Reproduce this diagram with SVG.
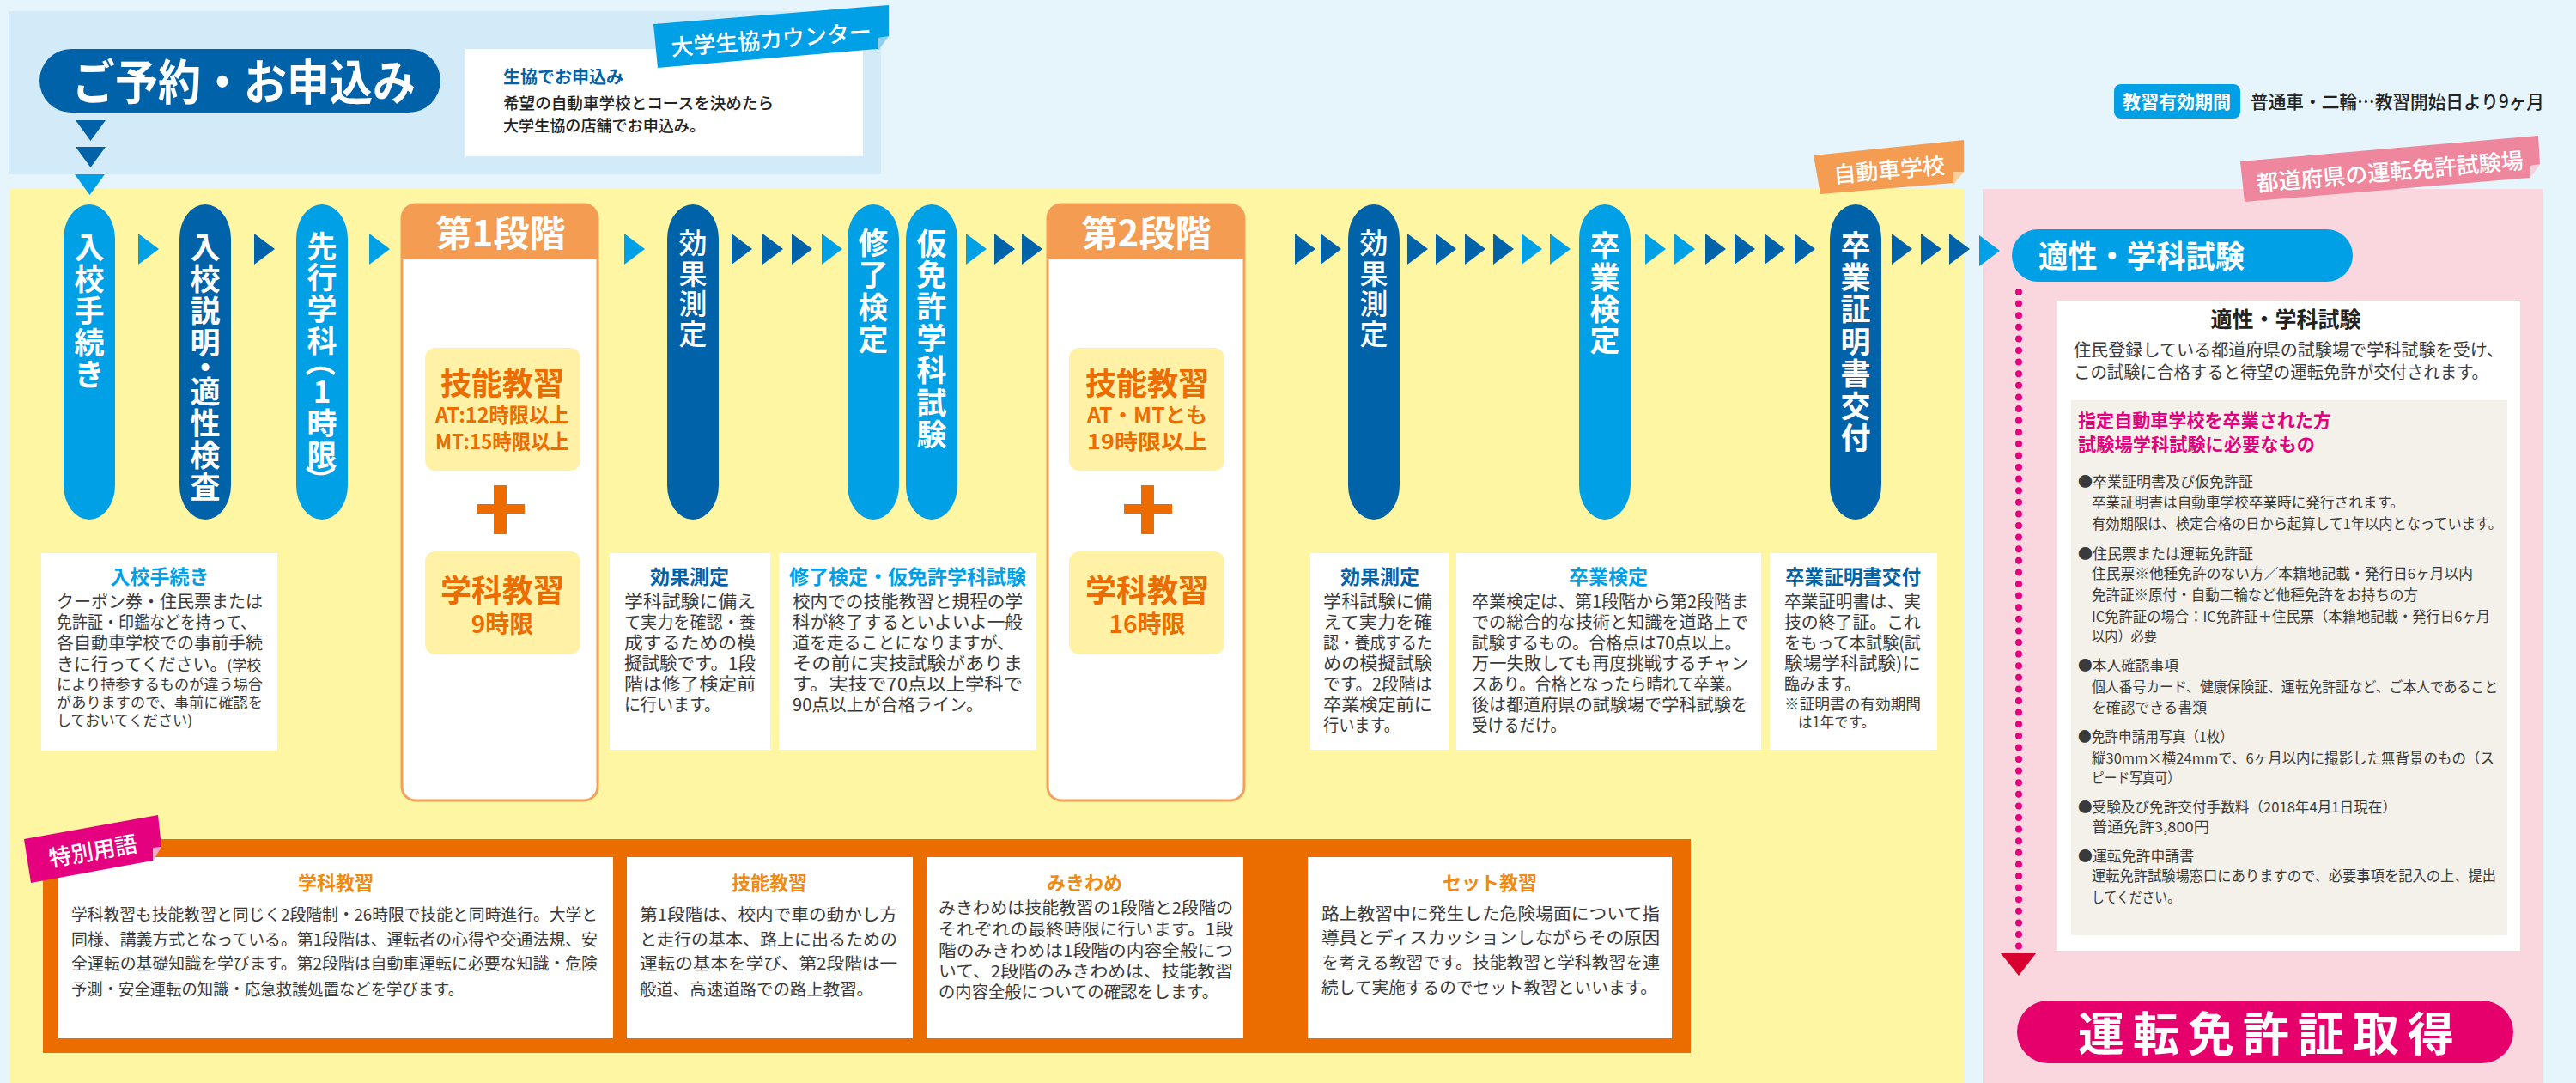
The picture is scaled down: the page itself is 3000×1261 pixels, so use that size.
<svg xmlns="http://www.w3.org/2000/svg" xmlns:xlink="http://www.w3.org/1999/xlink" width="3000" height="1261" viewBox="0 0 3000 1261">
<style>
text { font-family: "Noto Sans CJK JP", "Noto Sans", sans-serif; }
.vt { fill:#fff; font-weight:700; font-size:35px; text-anchor:middle; dominant-baseline:central; }
.vtm { font-weight:500; font-size:33px; }
.cl { fill:#00a0e6; }
.cd { fill:#0062a8; }
.wbox { fill:#fff; }
.dt { font-size:23px; font-weight:700; text-anchor:middle; }
.body { font-size:20px; fill:#3a3a3a; }
.sm { font-size:17px; }
.stage { fill:#fff; stroke:#f2a05a; stroke-width:3; }
.stagehd { fill:#f39c52; }
.sthd { fill:#fff; font-size:42px; font-weight:700; text-anchor:middle; }
.inner { fill:#fff1a6; }
.or { fill:#ec6c00; font-weight:700; text-anchor:middle; }
.list { font-size:16.5px; fill:#3a3a3a; }
.term { fill:#f08a12; font-size:22px; font-weight:700; text-anchor:middle; }
.tbody { font-size:19px; fill:#3a3a3a; }
.tag { fill:#fff; font-size:26px; font-weight:500; text-anchor:middle; dominant-baseline:central; }
</style>
<defs>
  <path id="chev" d="M0,0 L24,18 L0,36 Z"/>
  <rect id="pill" width="60" height="367" rx="30" ry="40"/>
  <path id="tri" d="M0,0 H35 L17.5,24 Z"/>
</defs>

<!-- backgrounds -->
<rect width="3000" height="1261" fill="#e6f4fc"/>
<rect x="10" y="13" width="1016" height="190" fill="#d3eaf8"/>
<rect x="11" y="219" width="2277" height="1042" fill="#fff6a3"/>
<rect x="2309" y="220" width="652" height="1041" fill="#fad6de"/>

<!-- header: reservation -->
<g id="reserve">
  <rect x="46" y="57" width="467" height="74" rx="37" fill="#0062a8"/>
  <text x="84" y="116" font-size="56" font-weight="700" fill="#fff" textLength="400" lengthAdjust="spacingAndGlyphs">ご予約・お申込み</text>
</g>
<g id="coop-box">
  <rect x="542" y="57" width="463" height="125" fill="#fff"/>
  <text x="586" y="97" font-size="20" font-weight="700" fill="#0062a8">生協でお申込み</text>
  <text x="586" y="127" font-size="18.5" font-weight="500" fill="#222" textLength="315" lengthAdjust="spacingAndGlyphs">希望の自動車学校とコースを決めたら</text>
  <text x="586" y="153" font-size="18.5" font-weight="500" fill="#222" textLength="235" lengthAdjust="spacingAndGlyphs">大学生協の店舗でお申込み。</text>
</g>
<g id="tag-coop">
  <polygon points="761,28 1035,6 1035,42 1022,57 766,79" fill="#00a0e6"/>
  <polygon points="1022,44 1035,42 1022,60" fill="#8fd0f2"/>
  <text class="tag" x="898" y="44" font-size="25" transform="rotate(-4.5 898 44)">大学生協カウンター</text>
</g>

<g id="tag-school">
  <polygon points="2112,181 2287,163 2287,200 2275,213 2120,226" fill="#f39c52"/>
  <polygon points="2275,200 2287,200 2275,215" fill="#f9cf9a"/>
  <text class="tag" x="2200" y="196" transform="rotate(-5 2200 196)">自動車学校</text>
</g>
<g id="tag-center">
  <polygon points="2609,188 2956,158 2958,191 2946,207 2614,235" fill="#ee879d"/>
  <polygon points="2946,193 2958,191 2946,208" fill="#f8d0da"/>
  <text class="tag" x="2783" y="198" transform="rotate(-5 2783 198)">都道府県の運転免許試験場</text>
</g>

<g id="validity">
  <rect x="2462" y="98" width="147" height="40" rx="8" fill="#00a0e6"/>
  <text x="2535" y="126" font-size="21" font-weight="700" fill="#fff" text-anchor="middle">教習有効期間</text>
  <text x="2621" y="126" font-size="21" font-weight="500" fill="#222" textLength="342" lengthAdjust="spacingAndGlyphs">普通車・二輪…教習開始日より9ヶ月</text>
</g>

<!-- connectors -->
<g id="connectors">
  <use href="#tri" x="88" y="140" class="cd"/>
  <use href="#tri" x="88" y="171" class="cd"/>
  <use href="#tri" x="87" y="203" class="cl"/>
  <use href="#chev" x="161" y="272" class="cl"/>
  <use href="#chev" x="296" y="272" class="cd"/>
  <use href="#chev" x="430" y="272" class="cl"/>
  <use href="#chev" x="727" y="272" class="cl"/>
  <use href="#chev" x="852" y="272" class="cd"/>
  <use href="#chev" x="888" y="272" class="cd"/>
  <use href="#chev" x="922" y="272" class="cd"/>
  <use href="#chev" x="957" y="272" class="cl"/>
  <use href="#chev" x="1125" y="272" class="cl"/>
  <use href="#chev" x="1158" y="272" class="cd"/>
  <use href="#chev" x="1190" y="272" class="cd"/>
  <use href="#chev" x="1508" y="272" class="cd"/>
  <use href="#chev" x="1538" y="272" class="cd"/>
  <use href="#chev" x="1639" y="272" class="cd"/>
  <use href="#chev" x="1672" y="272" class="cd"/>
  <use href="#chev" x="1706" y="272" class="cd"/>
  <use href="#chev" x="1739" y="272" class="cd"/>
  <use href="#chev" x="1772" y="272" class="cl"/>
  <use href="#chev" x="1805" y="272" class="cl"/>
  <use href="#chev" x="1916" y="272" class="cl"/>
  <use href="#chev" x="1950" y="272" class="cl"/>
  <use href="#chev" x="1986" y="272" class="cd"/>
  <use href="#chev" x="2020" y="272" class="cd"/>
  <use href="#chev" x="2055" y="272" class="cd"/>
  <use href="#chev" x="2090" y="272" class="cd"/>
  <use href="#chev" x="2203" y="272" class="cd"/>
  <use href="#chev" x="2237" y="272" class="cd"/>
  <use href="#chev" x="2270" y="272" class="cd"/>
  <use href="#chev" x="2305" y="274" class="cl"/>
  <line x1="2351" y1="340" x2="2351" y2="1104" stroke="#e4007f" stroke-width="8" stroke-linecap="round" stroke-dasharray="0 13.6"/>
  <polygon points="2330,1110 2371,1110 2351,1136" fill="#d7002f"/>
</g>

<!-- vertical step pills -->
<g id="step-nyuko">
  <use href="#pill" x="74" y="238" class="cl"/>
  <text class="vt" x="104 104 104 104 104" y="285 322 359 396 433">入校手続き</text>
</g>
<g id="step-setsumei">
  <use href="#pill" x="209" y="238" class="cd"/>
  <text class="vt" x="239 239 239 239 239 239 239 239 239" y="285 322 359 396 425 453 490 527 564">入校説明・適性検査</text>
</g>
<g id="step-senko">
  <use href="#pill" x="345" y="238" class="cl"/>
  <text class="vt" x="375 375 375 375" y="284 320 357 394">先行学科</text>
  <text class="vt" x="375" y="421" transform="rotate(90 375 421)">（</text>
  <text class="vt" x="375 375 375" y="453 490 527">1時限</text>
  <text class="vt" x="375" y="559" transform="rotate(90 375 559)">）</text>
</g>
<g id="step-stage1">
  <rect class="stage" x="468" y="238" width="228" height="694" rx="16"/>
  <path class="stagehd" d="M468,302 V254 Q468,238 484,238 H680 Q696,238 696,254 V302 Z"/>
  <text class="sthd" x="583" y="287">第1段階</text>
  <rect class="inner" x="495" y="405" width="181" height="143" rx="12"/>
  <text class="or" x="585" y="460" font-size="36">技能教習</text>
  <text class="or" x="585" y="492" font-size="24" textLength="156" lengthAdjust="spacingAndGlyphs">AT:12時限以上</text>
  <text class="or" x="585" y="523" font-size="24" textLength="156" lengthAdjust="spacingAndGlyphs">MT:15時限以上</text>
  <rect x="555" y="587" width="56" height="11" fill="#ec6c00"/>
  <rect x="575" y="565" width="15" height="57" fill="#ec6c00"/>
  <rect class="inner" x="495" y="642" width="181" height="120" rx="12"/>
  <text class="or" x="585" y="701" font-size="36">学科教習</text>
  <text class="or" x="585" y="737" font-size="28">9時限</text>
</g>
<g id="step-koka1">
  <use href="#pill" x="777" y="238" class="cd"/>
  <text class="vt vtm" x="807 807 807 807" y="281 317 352 387">効果測定</text>
</g>
<g id="step-shuryo">
  <use href="#pill" x="987" y="238" class="cl"/>
  <text class="vt" x="1017 1017 1017 1017" y="280 317 355 392">修了検定</text>
</g>
<g id="step-karimen">
  <use href="#pill" x="1055" y="238" class="cl"/>
  <text class="vt" font-weight="500" x="1085 1085 1085 1085 1085 1085 1085" y="281 317 354 391 428 466 503">仮免許学科試験</text>
</g>
<g id="step-stage2">
  <rect class="stage" x="1220" y="238" width="229" height="694" rx="16"/>
  <path class="stagehd" d="M1220,302 V254 Q1220,238 1236,238 H1433 Q1449,238 1449,254 V302 Z"/>
  <text class="sthd" x="1335" y="287">第2段階</text>
  <rect class="inner" x="1245" y="405" width="181" height="143" rx="12"/>
  <text class="or" x="1336" y="460" font-size="36">技能教習</text>
  <text class="or" x="1336" y="492" font-size="24" textLength="140" lengthAdjust="spacingAndGlyphs">AT・MTとも</text>
  <text class="or" x="1336" y="523" font-size="24" textLength="140" lengthAdjust="spacingAndGlyphs">19時限以上</text>
  <rect x="1309" y="587" width="56" height="11" fill="#ec6c00"/>
  <rect x="1329" y="565" width="15" height="57" fill="#ec6c00"/>
  <rect class="inner" x="1245" y="642" width="181" height="120" rx="12"/>
  <text class="or" x="1336" y="701" font-size="36">学科教習</text>
  <text class="or" x="1336" y="737" font-size="28">16時限</text>
</g>
<g id="step-koka2">
  <use href="#pill" x="1570" y="238" class="cd"/>
  <text class="vt vtm" x="1600 1600 1600 1600" y="281 317 352 387">効果測定</text>
</g>
<g id="step-sotsugyo">
  <use href="#pill" x="1839" y="238" class="cl"/>
  <text class="vt" x="1869 1869 1869 1869" y="283 320 357 393">卒業検定</text>
</g>
<g id="step-shomei">
  <use href="#pill" x="2131" y="238" class="cd"/>
  <text class="vt" x="2161 2161 2161 2161 2161 2161 2161" y="283 320 357 395 432 470 507">卒業証明書交付</text>
</g>

<!-- description boxes -->
<g id="desc-nyuko">
  <rect class="wbox" x="48" y="644" width="275" height="230"/>
  <text class="dt cl" x="186" y="680">入校手続き</text>
  <text class="body" x="66" y="708" textLength="240" lengthAdjust="spacingAndGlyphs">クーポン券・住民票または</text>
  <text class="body" x="66" y="732" textLength="232" lengthAdjust="spacingAndGlyphs">免許証・印鑑などを持って、</text>
  <text class="body" x="66" y="756" textLength="240" lengthAdjust="spacingAndGlyphs">各自動車学校での事前手続</text>
  <text class="body" x="66" y="781">きに行ってください。<tspan class="sm">(学校</tspan></text>
  <text class="body sm" x="66" y="803" textLength="240" lengthAdjust="spacingAndGlyphs">により持参するものが違う場合</text>
  <text class="body sm" x="66" y="824" textLength="240" lengthAdjust="spacingAndGlyphs">がありますので、事前に確認を</text>
  <text class="body sm" x="66" y="845" textLength="158" lengthAdjust="spacingAndGlyphs">しておいてください)</text>
</g>
<g id="desc-koka1">
  <rect class="wbox" x="710" y="644" width="187" height="229"/>
  <text class="dt cd" x="803" y="680">効果測定</text>
  <text class="body" x="727" y="708" textLength="153" lengthAdjust="spacingAndGlyphs">学科試験に備え</text>
  <text class="body" x="727" y="732" textLength="153" lengthAdjust="spacingAndGlyphs">て実力を確認・養</text>
  <text class="body" x="727" y="756" textLength="153" lengthAdjust="spacingAndGlyphs">成するための模</text>
  <text class="body" x="727" y="780" textLength="153" lengthAdjust="spacingAndGlyphs">擬試験です。1段</text>
  <text class="body" x="727" y="804" textLength="153" lengthAdjust="spacingAndGlyphs">階は修了検定前</text>
  <text class="body" x="727" y="828" textLength="112" lengthAdjust="spacingAndGlyphs">に行います。</text>
</g>
<g id="desc-shuryo">
  <rect class="wbox" x="907" y="644" width="300" height="229"/>
  <text class="dt cl" x="1057" y="680">修了検定・仮免許学科試験</text>
  <text class="body" x="923" y="708" textLength="268" lengthAdjust="spacingAndGlyphs">校内での技能教習と規程の学</text>
  <text class="body" x="923" y="732" textLength="268" lengthAdjust="spacingAndGlyphs">科が終了するといよいよ一般</text>
  <text class="body" x="923" y="756" textLength="258" lengthAdjust="spacingAndGlyphs">道を走ることになりますが、</text>
  <text class="body" x="923" y="780" textLength="268" lengthAdjust="spacingAndGlyphs">その前に実技試験がありま</text>
  <text class="body" x="923" y="804" textLength="268" lengthAdjust="spacingAndGlyphs">す。実技で70点以上学科で</text>
  <text class="body" x="923" y="828" textLength="222" lengthAdjust="spacingAndGlyphs">90点以上が合格ライン。</text>
</g>
<g id="desc-koka2">
  <rect class="wbox" x="1526" y="644" width="162" height="229"/>
  <text class="dt cd" x="1607" y="680">効果測定</text>
  <text class="body" x="1541" y="708" textLength="127" lengthAdjust="spacingAndGlyphs">学科試験に備</text>
  <text class="body" x="1541" y="732" textLength="127" lengthAdjust="spacingAndGlyphs">えて実力を確</text>
  <text class="body" x="1541" y="756" textLength="127" lengthAdjust="spacingAndGlyphs">認・養成するた</text>
  <text class="body" x="1541" y="780" textLength="127" lengthAdjust="spacingAndGlyphs">めの模擬試験</text>
  <text class="body" x="1541" y="804" textLength="127" lengthAdjust="spacingAndGlyphs">です。2段階は</text>
  <text class="body" x="1541" y="828" textLength="127" lengthAdjust="spacingAndGlyphs">卒業検定前に</text>
  <text class="body" x="1541" y="852" textLength="89" lengthAdjust="spacingAndGlyphs">行います。</text>
</g>
<g id="desc-sotsugyo">
  <rect class="wbox" x="1696" y="644" width="355" height="229"/>
  <text class="dt cl" x="1873" y="680">卒業検定</text>
  <text class="body" x="1714" y="708" textLength="322" lengthAdjust="spacingAndGlyphs">卒業検定は、第1段階から第2段階ま</text>
  <text class="body" x="1714" y="732" textLength="322" lengthAdjust="spacingAndGlyphs">での総合的な技術と知識を道路上で</text>
  <text class="body" x="1714" y="756" textLength="314" lengthAdjust="spacingAndGlyphs">試験するもの。合格点は70点以上。</text>
  <text class="body" x="1714" y="780" textLength="322" lengthAdjust="spacingAndGlyphs">万一失敗しても再度挑戦するチャン</text>
  <text class="body" x="1714" y="804" textLength="314" lengthAdjust="spacingAndGlyphs">スあり。合格となったら晴れて卒業。</text>
  <text class="body" x="1714" y="828" textLength="322" lengthAdjust="spacingAndGlyphs">後は都道府県の試験場で学科試験を</text>
  <text class="body" x="1714" y="852" textLength="110" lengthAdjust="spacingAndGlyphs">受けるだけ。</text>
</g>
<g id="desc-shomei">
  <rect class="wbox" x="2061" y="644" width="195" height="229"/>
  <text class="dt cd" x="2158" y="680" textLength="158" lengthAdjust="spacingAndGlyphs">卒業証明書交付</text>
  <text class="body" x="2078" y="708" textLength="159" lengthAdjust="spacingAndGlyphs">卒業証明書は、実</text>
  <text class="body" x="2078" y="732" textLength="159" lengthAdjust="spacingAndGlyphs">技の終了証。これ</text>
  <text class="body" x="2078" y="756" textLength="159" lengthAdjust="spacingAndGlyphs">をもって本試験(試</text>
  <text class="body" x="2078" y="780" textLength="159" lengthAdjust="spacingAndGlyphs">験場学科試験)に</text>
  <text class="body" x="2078" y="804" textLength="88" lengthAdjust="spacingAndGlyphs">臨みます。</text>
  <text class="body sm" x="2078" y="826" textLength="159" lengthAdjust="spacingAndGlyphs">※証明書の有効期間</text>
  <text class="body sm" x="2094" y="847" textLength="90" lengthAdjust="spacingAndGlyphs">は1年です。</text>
</g>

<!-- test center -->
<g id="step-tekisei">
  <rect x="2343" y="267" width="397" height="61" rx="30.5" fill="#00a0e6"/>
  <text x="2374" y="312" font-size="36" font-weight="700" fill="#fff" textLength="240" lengthAdjust="spacingAndGlyphs">適性・学科試験</text>
</g>
<g id="desc-tekisei">
  <rect x="2395" y="350" width="540" height="757" fill="#fff"/>
  <text x="2662" y="381" font-size="25" font-weight="700" fill="#222" text-anchor="middle">適性・学科試験</text>
  <text x="2415" y="415" font-size="20" fill="#3a3a3a" textLength="501" lengthAdjust="spacingAndGlyphs">住民登録している都道府県の試験場で学科試験を受け、</text>
  <text x="2415" y="441" font-size="20" fill="#3a3a3a" textLength="483" lengthAdjust="spacingAndGlyphs">この試験に合格すると待望の運転免許が交付されます。</text>
  <rect x="2412" y="466" width="508" height="623" fill="#f4f1ea"/>
  <text x="2420" y="497" font-size="21" font-weight="700" fill="#e4007f" textLength="295" lengthAdjust="spacingAndGlyphs">指定自動車学校を卒業された方</text>
  <text x="2420" y="525" font-size="21" font-weight="700" fill="#e4007f" textLength="276" lengthAdjust="spacingAndGlyphs">試験場学科試験に必要なもの</text>
  <text class="list" x="2420" y="567" textLength="204" lengthAdjust="spacingAndGlyphs">●卒業証明書及び仮免許証</text>
  <text class="list" x="2436" y="591" textLength="364" lengthAdjust="spacingAndGlyphs">卒業証明書は自動車学校卒業時に発行されます。</text>
  <text class="list" x="2436" y="616" textLength="478" lengthAdjust="spacingAndGlyphs">有効期限は、検定合格の日から起算して1年以内となっています。</text>
  <text class="list" x="2420" y="651" textLength="204" lengthAdjust="spacingAndGlyphs">●住民票または運転免許証</text>
  <text class="list" x="2436" y="674" textLength="444" lengthAdjust="spacingAndGlyphs">住民票※他種免許のない方／本籍地記載・発行日6ヶ月以内</text>
  <text class="list" x="2436" y="699" textLength="380" lengthAdjust="spacingAndGlyphs">免許証※原付・自動二輪など他種免許をお持ちの方</text>
  <text class="list" x="2436" y="724" textLength="464" lengthAdjust="spacingAndGlyphs">IC免許証の場合：IC免許証＋住民票（本籍地記載・発行日6ヶ月</text>
  <text class="list" x="2436" y="747" textLength="76" lengthAdjust="spacingAndGlyphs">以内）必要</text>
  <text class="list" x="2420" y="781" textLength="117" lengthAdjust="spacingAndGlyphs">●本人確認事項</text>
  <text class="list" x="2436" y="806" textLength="473" lengthAdjust="spacingAndGlyphs">個人番号カード、健康保険証、運転免許証など、ご本人であること</text>
  <text class="list" x="2436" y="830" textLength="134" lengthAdjust="spacingAndGlyphs">を確認できる書類</text>
  <text class="list" x="2420" y="864" textLength="181" lengthAdjust="spacingAndGlyphs">●免許申請用写真（1枚）</text>
  <text class="list" x="2436" y="889" textLength="469" lengthAdjust="spacingAndGlyphs">縦30mm×横24mmで、6ヶ月以内に撮影した無背景のもの（ス</text>
  <text class="list" x="2436" y="912" textLength="103" lengthAdjust="spacingAndGlyphs">ピード写真可）</text>
  <text class="list" x="2420" y="946" textLength="371" lengthAdjust="spacingAndGlyphs">●受験及び免許交付手数料（2018年4月1日現在）</text>
  <text class="list" x="2436" y="969" textLength="137" lengthAdjust="spacingAndGlyphs">普通免許3,800円</text>
  <text class="list" x="2420" y="1003" textLength="135" lengthAdjust="spacingAndGlyphs">●運転免許申請書</text>
  <text class="list" x="2436" y="1026" textLength="471" lengthAdjust="spacingAndGlyphs">運転免許試験場窓口にありますので、必要事項を記入の上、提出</text>
  <text class="list" x="2436" y="1051" textLength="103" lengthAdjust="spacingAndGlyphs">してください。</text>
</g>
<g id="goal">
  <rect x="2349" y="1165" width="578" height="73" rx="36.5" fill="#e5006b"/>
  <text x="2420" y="1224" font-size="54" font-weight="700" fill="#fff" letter-spacing="10">運転免許証取得</text>
</g>

<!-- special terms -->
<g id="terms">
  <rect x="50" y="977" width="1919" height="249" fill="#eb6d00"/>
  <rect x="68" y="998" width="646" height="211" fill="#fff"/>
  <rect x="730" y="998" width="333" height="211" fill="#fff"/>
  <rect x="1079" y="998" width="369" height="211" fill="#fff"/>
  <rect x="1523" y="998" width="424" height="211" fill="#fff"/>
</g>
<g id="term-gakka">
  <text class="term" x="391" y="1036">学科教習</text>
  <text class="tbody" x="83" y="1072" textLength="613" lengthAdjust="spacingAndGlyphs">学科教習も技能教習と同じく2段階制・26時限で技能と同時進行。大学と</text>
  <text class="tbody" x="83" y="1101" textLength="613" lengthAdjust="spacingAndGlyphs">同様、講義方式となっている。第1段階は、運転者の心得や交通法規、安</text>
  <text class="tbody" x="83" y="1129" textLength="613" lengthAdjust="spacingAndGlyphs">全運転の基礎知識を学びます。第2段階は自動車運転に必要な知識・危険</text>
  <text class="tbody" x="83" y="1159" textLength="457" lengthAdjust="spacingAndGlyphs">予測・安全運転の知識・応急救護処置などを学びます。</text>
</g>
<g id="term-gino">
  <text class="term" x="896" y="1036">技能教習</text>
  <text class="tbody" x="745" y="1072" textLength="300" lengthAdjust="spacingAndGlyphs">第1段階は、校内で車の動かし方</text>
  <text class="tbody" x="745" y="1101" textLength="300" lengthAdjust="spacingAndGlyphs">と走行の基本、路上に出るための</text>
  <text class="tbody" x="745" y="1129" textLength="300" lengthAdjust="spacingAndGlyphs">運転の基本を学び、第2段階は一</text>
  <text class="tbody" x="745" y="1159" textLength="272" lengthAdjust="spacingAndGlyphs">般道、高速道路での路上教習。</text>
</g>
<g id="term-mikiwame">
  <text class="term" x="1263" y="1036">みきわめ</text>
  <text class="tbody" x="1093" y="1064" textLength="343" lengthAdjust="spacingAndGlyphs">みきわめは技能教習の1段階と2段階の</text>
  <text class="tbody" x="1093" y="1089" textLength="343" lengthAdjust="spacingAndGlyphs">それぞれの最終時限に行います。1段</text>
  <text class="tbody" x="1093" y="1114" textLength="343" lengthAdjust="spacingAndGlyphs">階のみきわめは1段階の内容全般につ</text>
  <text class="tbody" x="1093" y="1138" textLength="343" lengthAdjust="spacingAndGlyphs">いて、2段階のみきわめは、技能教習</text>
  <text class="tbody" x="1093" y="1162" textLength="326" lengthAdjust="spacingAndGlyphs">の内容全般についての確認をします。</text>
</g>
<g id="term-set">
  <text class="term" x="1735" y="1036">セット教習</text>
  <text class="tbody" x="1539" y="1071" textLength="394" lengthAdjust="spacingAndGlyphs">路上教習中に発生した危険場面について指</text>
  <text class="tbody" x="1539" y="1099" textLength="394" lengthAdjust="spacingAndGlyphs">導員とディスカッションしながらその原因</text>
  <text class="tbody" x="1539" y="1128" textLength="394" lengthAdjust="spacingAndGlyphs">を考える教習です。技能教習と学科教習を連</text>
  <text class="tbody" x="1539" y="1157" textLength="391" lengthAdjust="spacingAndGlyphs">続して実施するのでセット教習といいます。</text>
</g>
<g id="tag-terms">
  <polygon points="28,977 184,949 188,986 178,1002 36,1028" fill="#e4007f"/>
  <polygon points="178,987 188,986 178,1003" fill="#f4a9c9"/>
  <text class="tag" x="108" y="989" font-size="28" transform="rotate(-10 108 989)">特別用語</text>
</g>
</svg>
